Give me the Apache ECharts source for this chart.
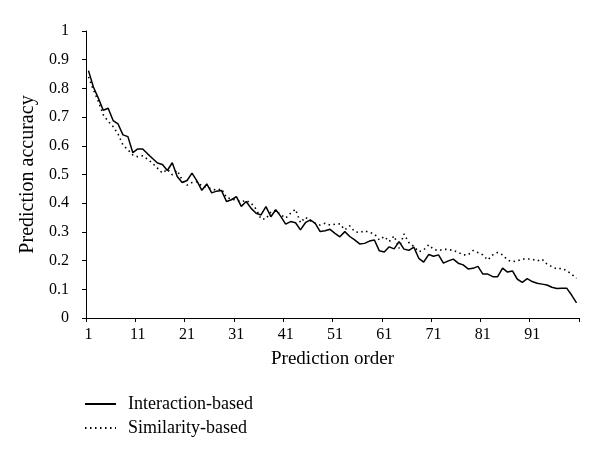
<!DOCTYPE html>
<html>
<head>
<meta charset="utf-8">
<script src="https://cdn.jsdelivr.net/npm/echarts@6/dist/echarts.min.js"></script>
<style>
html,body{margin:0;padding:0;background:#fff;}
#chart{width:600px;height:460px;}
</style>
</head>
<body>
<div id="chart"></div>
<script>
const seriesNames = ['Interaction-based', 'Similarity-based'];
const xTitle = 'Prediction order';
const yTitle = 'Prediction accuracy';

const interactionBased = [
0.862,0.805,0.766,0.724,0.731,0.688,0.676,0.638,0.632,0.576,
0.589,0.589,0.572,0.556,0.540,0.535,0.514,0.541,0.493,0.472,
0.479,0.505,0.478,0.445,0.467,0.436,0.442,0.444,0.406,0.412,
0.423,0.389,0.406,0.382,0.365,0.359,0.388,0.353,0.377,0.354,
0.327,0.336,0.332,0.307,0.332,0.342,0.330,0.301,0.304,0.309,
0.295,0.283,0.301,0.284,0.272,0.258,0.260,0.268,0.272,0.234,
0.230,0.248,0.241,0.266,0.240,0.236,0.247,0.208,0.195,0.221,
0.215,0.220,0.191,0.199,0.205,0.191,0.185,0.171,0.173,0.180,
0.153,0.153,0.144,0.144,0.174,0.160,0.164,0.135,0.124,0.137,
0.127,0.121,0.118,0.115,0.107,0.103,0.104,0.104,0.080,0.053
];

const similarityBased = [
0.840,0.795,0.755,0.708,0.685,0.667,0.641,0.603,0.586,0.568,
0.562,0.565,0.553,0.539,0.522,0.505,0.518,0.499,0.514,0.481,
0.463,0.472,0.475,0.460,0.455,0.450,0.445,0.450,0.420,0.415,
0.410,0.405,0.410,0.400,0.380,0.345,0.345,0.370,0.375,0.360,
0.348,0.365,0.379,0.332,0.351,0.339,0.330,0.324,0.330,0.324,
0.327,0.328,0.307,0.321,0.301,0.298,0.304,0.298,0.293,0.272,
0.284,0.266,0.286,0.243,0.293,0.263,0.249,0.231,0.237,0.255,
0.239,0.235,0.239,0.239,0.235,0.229,0.220,0.220,0.235,0.228,
0.220,0.202,0.220,0.228,0.220,0.202,0.196,0.199,0.205,0.206,
0.205,0.199,0.205,0.188,0.179,0.171,0.173,0.165,0.153,0.138
];

const categories = interactionBased.map((_, i) => String(i + 1));

const FONT = '"Liberation Serif", "DejaVu Serif", serif';
const chart = echarts.init(document.getElementById('chart'), null, {renderer: 'canvas'});
chart.setOption({
  animation: false,
  backgroundColor: '#fff',
  textStyle: {fontFamily: FONT, color: '#000'},
  grid: {left: 86, right: 21, top: 31, bottom: 142, containLabel: false},
  legend: {
    orient: 'vertical',
    left: 84,
    top: 395,
    padding: 0,
    itemWidth: 31,
    itemHeight: 14,
    itemGap: 6,
    data: seriesNames,
    itemStyle: {color: 'transparent', borderWidth: 0, opacity: 0},
    textStyle: {fontFamily: FONT, fontSize: 18, color: '#000', padding: [0, 0, 0, 7]}
  },
  xAxis: {
    type: 'category',
    data: categories,
    boundaryGap: true,
    name: xTitle,
    nameLocation: 'middle',
    nameGap: 32,
    nameTextStyle: {fontFamily: FONT, fontSize: 19, color: '#000'},
    axisLine: {lineStyle: {color: '#000', width: 1}},
    axisTick: {show: true, interval: 9, length: 4, inside: false, lineStyle: {color: '#000'}},
    axisLabel: {interval: 9, margin: 9, fontFamily: FONT, fontSize: 16, color: '#000'},
    splitLine: {show: false}
  },
  yAxis: {
    type: 'value',
    min: 0,
    max: 1,
    interval: 0.1,
    name: yTitle,
    nameLocation: 'middle',
    nameGap: 44,
    nameTextStyle: {fontFamily: FONT, fontSize: 20, color: '#000'},
    axisLine: {show: true, lineStyle: {color: '#000', width: 1}},
    axisTick: {show: true, length: 4, lineStyle: {color: '#000'}},
    axisLabel: {margin: 17, fontFamily: FONT, fontSize: 16, color: '#000'},
    splitLine: {show: false}
  },
  series: [
    {
      name: seriesNames[0],
      type: 'line',
      data: interactionBased,
      symbol: 'none',
      showSymbol: false,
      lineStyle: {color: '#000', width: 1.5, type: 'solid'},
      itemStyle: {color: '#000'}
    },
    {
      name: seriesNames[1],
      type: 'line',
      data: similarityBased,
      symbol: 'none',
      showSymbol: false,
      lineStyle: {color: '#000', width: 1.6, type: [1.5, 3.5]},
      itemStyle: {color: '#000'}
    }
  ]
});
</script>
</body>
</html>
